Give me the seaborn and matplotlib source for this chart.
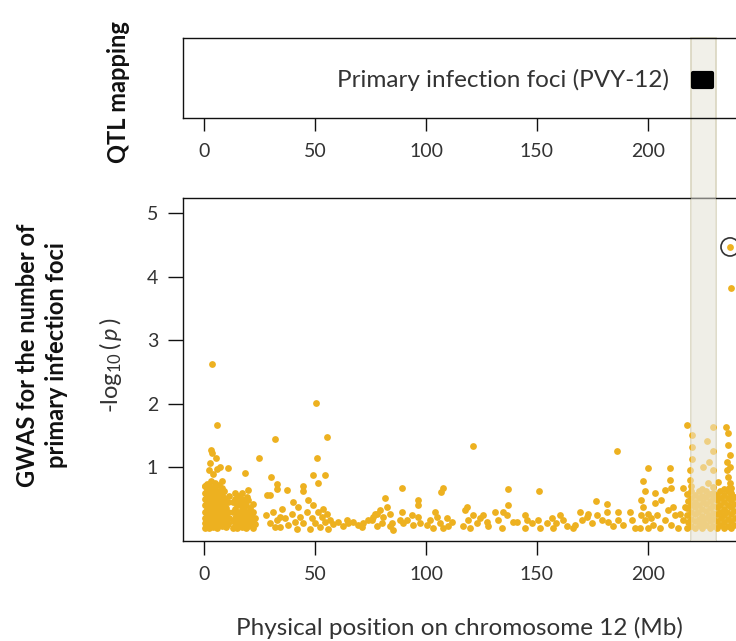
import matplotlib
matplotlib.use("Agg")
import matplotlib.pyplot as plt
import matplotlib.transforms as mtransforms
from matplotlib.patches import Rectangle
import numpy as np
import pandas as pd
import seaborn as sns

# ---------------- data ----------------
# cluster near chromosome start (0-12 Mb)
pos_a = [0.3, 0.4, 0.3, 0.5, 0.3, 0.4, 0.3, 0.5,
         1.2, 1.3, 1.1, 1.2, 1.3, 1.2, 1.1, 1.3,
         2.2, 2.1, 2.3, 2.2, 2.1, 2.3, 2.2, 2.1,
         3.1, 3.2, 3.0, 3.1, 3.2, 3.1, 3.0, 3.2,
         4.0, 4.1, 3.9, 4.0, 4.1, 4.0, 3.9,
         5.0, 5.1, 4.9, 5.0, 5.1, 5.0, 4.9, 5.1,
         6.0, 6.1, 5.9, 6.0, 6.1, 6.0, 5.9,
         7.0, 7.1, 6.9, 7.0, 7.1, 7.0, 6.9,
         8.0, 8.1, 7.9, 8.0, 8.1, 8.0, 7.9, 8.1,
         9.0, 9.1, 8.9, 9.0, 9.1, 9.0,
         10.0, 10.1, 9.9, 10.0, 10.1,
         11.0, 11.1, 10.9, 11.0, 11.1,
         3.7, 5.7, 3.0, 3.5, 5.3, 2.7, 2.3, 5.7, 7.2, 11.0, 4.0, 0.5]
val_a = [0.05, 0.12, 0.20, 0.30, 0.40, 0.50, 0.60, 0.70,
         0.08, 0.16, 0.25, 0.35, 0.45, 0.55, 0.65, 0.74,
         0.05, 0.13, 0.22, 0.32, 0.42, 0.52, 0.62, 0.72,
         0.10, 0.18, 0.28, 0.38, 0.48, 0.58, 0.68, 0.78,
         0.06, 0.15, 0.24, 0.34, 0.44, 0.54, 0.64,
         0.09, 0.19, 0.29, 0.39, 0.49, 0.59, 0.69, 0.76,
         0.05, 0.14, 0.23, 0.33, 0.43, 0.53, 0.63,
         0.10, 0.20, 0.30, 0.40, 0.50, 0.60, 0.72,
         0.07, 0.17, 0.27, 0.37, 0.47, 0.57, 0.67, 0.78,
         0.12, 0.22, 0.32, 0.42, 0.52, 0.62,
         0.06, 0.16, 0.26, 0.36, 0.46,
         0.10, 0.20, 0.30, 0.45, 0.55,
         2.63, 1.67, 1.27, 1.22, 1.14, 1.06, 0.96, 0.98, 1.00, 0.99, 0.90, 0.70]

# second cluster (12-25 Mb)
pos_b = [13.0, 13.1, 12.9, 13.0,
         14.0, 14.1, 13.9, 14.0, 14.1,
         15.0, 15.1, 14.9, 15.0, 15.1,
         16.0, 16.1, 15.9, 16.0,
         17.0, 17.1, 16.9, 17.0, 17.1, 17.0,
         18.0, 18.1, 17.9, 18.0,
         19.0, 19.1, 18.9, 19.0, 19.2,
         20.0, 20.1, 19.9, 20.0, 20.0,
         21.0, 21.1, 20.9,
         22.0, 22.1, 21.9, 22.0,
         23.0, 23.1,
         18.6, 24.8]
val_b = [0.05, 0.15, 0.30, 0.45,
         0.08, 0.20, 0.35, 0.50, 0.60,
         0.05, 0.12, 0.25, 0.40, 0.55,
         0.10, 0.20, 0.30, 0.45,
         0.06, 0.16, 0.28, 0.38, 0.50, 0.60,
         0.10, 0.22, 0.33, 0.44,
         0.05, 0.15, 0.27, 0.40, 0.54,
         0.08, 0.20, 0.30, 0.48, 0.64,
         0.12, 0.25, 0.36,
         0.05, 0.15, 0.30, 0.42,
         0.10, 0.20,
         0.91, 1.14]

# 25-78 Mb
pos_c = [32.0, 50.3, 55.6, 50.7, 48.9, 54.7, 51.5, 30.0, 32.7, 33.0, 37.2,
         44.7, 44.7, 28.5, 29.7,
         27.9, 29.7, 31.2, 32.7, 34.2, 35.0, 36.5, 38.0, 39.5, 41.0, 41.7,
         42.5, 43.2, 44.7, 46.2, 47.0, 47.7, 48.5, 49.2, 50.0, 51.5, 52.2,
         53.0, 53.7, 54.5, 55.2, 56.0, 56.7, 34.2, 31.9, 40.2,
         58.3, 60.5, 62.7, 65.0, 67.3, 69.5, 71.8, 74.0, 76.3, 77.8, 64.2, 71.0]
val_c = [1.45, 2.02, 1.48, 1.14, 0.88, 0.88, 0.76, 0.84, 0.74, 0.66, 0.65,
         0.71, 0.63, 0.57, 0.57,
         0.25, 0.12, 0.30, 0.17, 0.06, 0.35, 0.20, 0.09, 0.27, 0.14, 0.03,
         0.38, 0.22, 0.12, 0.30, 0.48, 0.03, 0.20, 0.41, 0.12, 0.30, 0.06,
         0.22, 0.35, 0.14, 0.27, 0.03, 0.17, 0.22, 0.06, 0.46,
         0.11, 0.14, 0.08, 0.12, 0.14, 0.09, 0.13, 0.17, 0.22, 0.27, 0.17, 0.06]

# 75-158 Mb
pos_d = [75.5, 77.1, 79.3, 80.8, 82.3, 83.8, 84.6, 85.3, 81.6, 83.8, 77.8, 80.1,
         89.1, 89.1, 89.8, 91.3, 93.6, 94.3, 96.3, 96.3, 96.6, 97.3, 88.3,
         100.3, 101.8, 104.1, 104.8, 106.3, 106.6, 107.8, 107.8, 110.1, 111.6, 109.3, 103.3,
         116.8, 117.6, 118.3, 119.1, 121.3, 121.0, 122.8, 124.4, 125.9, 127.4, 128.1, 119.8,
         131.1, 134.9, 132.6, 136.8, 137.1, 136.4, 139.4, 140.9, 134.1,
         144.6, 145.4, 144.6, 147.6, 151.1, 150.6, 151.4, 154.4, 156.6, 157.4]
val_d = [0.17, 0.27, 0.33, 0.22, 0.38, 0.27, 0.12, 0.02, 0.51, 0.07, 0.07, 0.12,
         0.68, 0.29, 0.12, 0.17, 0.25, 0.09, 0.49, 0.41, 0.22, 0.12, 0.17,
         0.09, 0.17, 0.30, 0.22, 0.12, 0.61, 0.68, 0.04, 0.07, 0.14, 0.20, 0.04,
         0.07, 0.33, 0.37, 0.17, 0.25, 1.33, 0.12, 0.20, 0.25, 0.14, 0.07, 0.04,
         0.30, 0.30, 0.17, 0.66, 0.41, 0.25, 0.14, 0.14, 0.04,
         0.25, 0.17, 0.04, 0.12, 0.63, 0.17, 0.04, 0.12, 0.20, 0.04]

# 158-217 Mb
pos_e = [158.8, 160.4, 161.9, 163.4, 166.4, 167.1,
         169.4, 170.1, 172.4, 173.1, 174.6, 176.4, 176.9, 179.1, 181.4, 181.4, 182.1,
         184.4, 186.2, 186.3, 186.6, 188.9, 191.9, 192.6, 194.1,
         197.9, 198.6, 200.1, 197.1, 197.9, 197.1, 198.6, 200.1, 201.6, 203.1, 202.4,
         200.1, 203.9, 196.4, 203.1,
         207.6, 210.6, 209.9, 209.9, 215.9, 206.1, 209.1, 211.4, 212.2, 214.4, 207.6,
         210.6, 213.7, 215.9, 205.4, 216.7]
val_e = [0.12, 0.25, 0.17, 0.07, 0.04, 0.09,
         0.30, 0.17, 0.22, 0.27, 0.12, 0.47, 0.25, 0.17, 0.42, 0.30, 0.14,
         0.07, 1.25, 0.30, 0.17, 0.09, 0.30, 0.17, 0.04,
         0.78, 0.62, 0.99, 0.49, 0.38, 0.25, 0.17, 0.27, 0.20, 0.59, 0.09,
         0.04, 0.25, 0.04, 0.43,
         0.64, 0.67, 0.99, 0.80, 0.67, 0.49, 0.33, 0.38, 0.25, 0.27, 0.17,
         0.09, 0.04, 0.17, 0.04, 0.38]

# QTL region and chromosome end (217-240 Mb)
pos_f = [217.4, 229.4, 219.7, 235.4, 236.2, 236.2, 219.7, 226.4, 229.4, 219.7,
         227.5, 224.9, 218.9, 218.9, 231.7, 226.9, 235.7, 235.7, 236.2, 229.4,
         237.0, 236.5, 237.5, 237.0, 237.2,
         217.8, 217.9, 217.7, 217.8, 217.9, 217.8,
         219.5, 219.6, 219.4, 219.5, 219.6, 219.5, 219.4,
         221.2, 221.3, 221.1, 221.2, 221.3, 221.2,
         222.8, 222.9, 222.7, 222.8, 222.9, 222.8,
         224.5, 224.6, 224.4, 224.5, 224.6, 224.5, 224.4,
         226.1, 226.2, 226.0, 226.1, 226.2, 226.1,
         227.8, 227.9, 227.7, 227.8, 227.9, 227.8,
         229.4, 229.5, 229.3, 229.4, 229.5, 229.4, 229.3,
         231.0, 231.1, 230.9, 231.0, 231.1, 231.0,
         232.7, 232.8, 232.6, 232.7, 232.8, 232.7,
         234.3, 234.4, 234.2, 234.3, 234.4, 234.3, 234.2,
         235.9, 236.0, 235.8, 235.9, 236.0, 235.9,
         237.5, 237.6, 237.4, 237.5, 237.6, 237.5, 237.4,
         239.0, 239.1, 238.9, 239.0, 239.1]
val_f = [1.66, 1.64, 1.51, 1.64, 1.54, 1.35, 1.32, 1.41, 1.25, 1.13,
         1.09, 1.01, 0.96, 0.80, 0.77, 0.75, 1.09, 0.96, 0.85, 0.96,
         0.75, 0.68, 0.60, 1.20, 1.00,
         0.04, 0.14, 0.25, 0.36, 0.47, 0.58,
         0.08, 0.18, 0.29, 0.40, 0.51, 0.62, 0.70,
         0.04, 0.15, 0.26, 0.37, 0.46, 0.56,
         0.09, 0.19, 0.30, 0.41, 0.52, 0.63,
         0.05, 0.14, 0.24, 0.35, 0.45, 0.55, 0.66,
         0.09, 0.20, 0.31, 0.42, 0.53, 0.62,
         0.04, 0.15, 0.25, 0.36, 0.47, 0.58,
         0.08, 0.18, 0.28, 0.39, 0.50, 0.60, 0.69,
         0.05, 0.15, 0.26, 0.37, 0.48, 0.57,
         0.09, 0.20, 0.30, 0.41, 0.52, 0.63,
         0.04, 0.14, 0.25, 0.35, 0.46, 0.56, 0.66,
         0.08, 0.19, 0.30, 0.40, 0.51, 0.62,
         0.05, 0.15, 0.26, 0.37, 0.48, 0.58, 0.68,
         0.09, 0.20, 0.31, 0.42, 0.53]

# strongest associations
peak_pos = [237.0, 237.3]
peak_val = [4.47, 3.83]
lead_snp_pos = 237.0
lead_snp_val = 4.47

qtl_label = "Primary infection foci (PVY-12)"
qtl_start, qtl_end = 219.3, 229.9
band_start, band_end = 219.3, 230.6

x_ticks = [0, 50, 100, 150, 200]
y_ticks = [1, 2, 3, 4, 5]

# ---------------- style ----------------
sns.set_style("ticks")
FONT = "Lato"
plt.rcParams["font.family"] = [FONT, "DejaVu Sans"]
plt.rcParams["mathtext.fontset"] = "custom"
plt.rcParams["mathtext.rm"] = FONT
plt.rcParams["mathtext.it"] = FONT + ":italic"

POINT = "#EDB120"
TXT = "#333333"

df = pd.DataFrame({
    "pos": pos_a + pos_b + pos_c + pos_d + pos_e + pos_f + peak_pos,
    "logp": val_a + val_b + val_c + val_d + val_e + val_f + peak_val,
})

W, H = 736, 641
fig = plt.figure(figsize=(W / 100, H / 100), dpi=100)
fig.patch.set_facecolor("white")

xl = (-9.5, 250.5)
left = 183 / W
width = (760 - 183) / W
ax_top = fig.add_axes([left, 1 - 118.3 / H, width, (118.3 - 37.5) / H])
ax_bot = fig.add_axes([left, 1 - 540.7 / H, width, (540.7 - 198.3) / H])
for ax in (ax_top, ax_bot):
    ax.set_facecolor("none")
    ax.set_xlim(*xl)
    for s in ax.spines.values():
        s.set_visible(True)
        s.set_linewidth(1.0)
        s.set_color("#111111")

# band across both panels
trans = mtransforms.blended_transform_factory(ax_bot.transData, fig.transFigure)
band = Rectangle((band_start, 1 - 540.7 / H), band_end - band_start,
                 (540.7 - 37.5) / H, transform=trans, facecolor="#f1f0e9",
                 edgecolor="#d9d5c0", lw=1.2, zorder=-1)
fig.add_artist(band)

# top panel
ax_top.set_ylim(0, 1)
ax_top.set_yticks([])
ax_top.set_xticks(x_ticks)
ax_top.tick_params(axis="x", bottom=True, direction="out", length=9, width=1.0,
                   pad=9, labelsize=14, labelcolor=TXT, color="#111111")
ax_top.add_patch(Rectangle((qtl_start + 0.9, 0.385), qtl_end - qtl_start - 1.8, 0.18,
                           facecolor="black", edgecolor="black", lw=3,
                           joinstyle="round", zorder=3))
ax_top.text(qtl_start - 9.8, 0.475, qtl_label, ha="right", va="center",
            fontsize=17.5, color=TXT)

# bottom panel
sns.scatterplot(data=df, x="pos", y="logp", ax=ax_bot, color=POINT, s=24,
                linewidth=0, legend=False, zorder=2)
ax_bot.axvspan(band_start, band_end, color="#efeee6", alpha=0.5, lw=0, zorder=3)
ax_bot.scatter([lead_snp_pos], [lead_snp_val], s=170, facecolors="none",
               edgecolors="#333333", linewidths=1.2, zorder=4)
ax_bot.set_ylim(-0.156, 5.236)
ax_bot.set_xticks(x_ticks)
ax_bot.set_yticks(y_ticks)
ax_bot.set_xlabel("")
ax_bot.set_ylabel("")
ax_bot.tick_params(axis="x", bottom=True, direction="out", length=10, width=1.0,
                   pad=8, labelsize=14, labelcolor=TXT, color="#111111")
ax_bot.tick_params(axis="y", left=True, direction="out", length=11, width=1.0,
                   pad=7, labelsize=14, labelcolor=TXT, color="#111111")

# labels
fig.text(118 / W, 1 - 92 / H, "QTL mapping", rotation=90, ha="center",
         va="center", fontsize=17, fontweight="bold", color="#111111")
fig.text(42 / W, 1 - 355 / H, "GWAS for the number of\nprimary infection foci",
         rotation=90, ha="center", va="center", fontsize=17, fontweight="bold",
         color="#111111", linespacing=1.35)
fig.text(110 / W, 1 - 365 / H, r"-log$_{10}\,$($\,\mathit{p}\,$)", rotation=90,
         ha="center", va="center", fontsize=17, color=TXT)
fig.text(459 / W, 1 - 628 / H, "Physical position on chromosome 12 (Mb)",
         ha="center", va="center", fontsize=17.5, color=TXT)

fig.savefig("out.png", dpi=100)
